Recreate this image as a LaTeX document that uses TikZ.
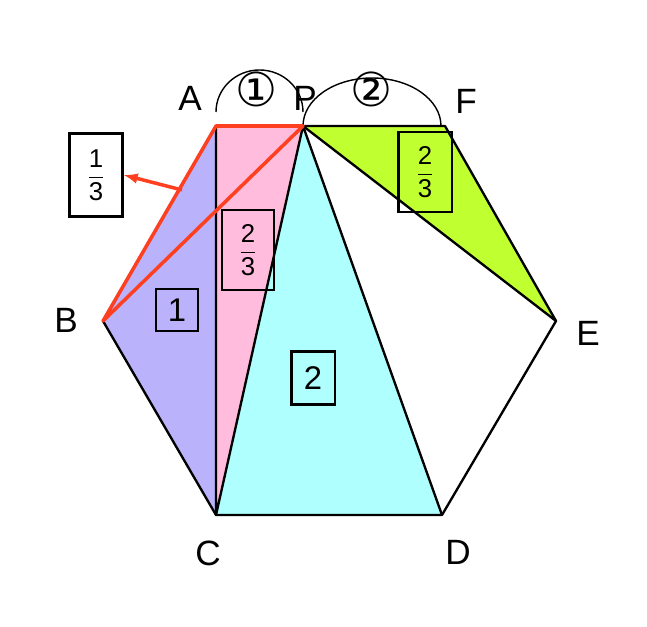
\documentclass[tikz,border=0pt]{standalone}
\usepackage{fontspec}
\setmainfont{Liberation Sans}
\newfontfamily\symfont{DejaVu Sans}
\definecolor{purp}{RGB}{186,178,250}
\definecolor{pinkr}{RGB}{255,188,220}
\definecolor{cyanr}{RGB}{176,255,255}
\definecolor{greenr}{RGB}{192,255,48}
\definecolor{redr}{RGB}{255,64,32}
\newcommand{\fr}[2]{$\displaystyle\frac{\mbox{#1}}{\mbox{#2}}$}
\begin{document}
\begin{tikzpicture}[x=0.03cm, y=-0.03cm,
    lbl/.style = {font=\fontsize{30}{34}\selectfont, inner sep=0pt},
    box/.style = {draw, line width=2pt, inner sep=3pt, font=\fontsize{28}{30}\selectfont},
    fbox/.style = {draw, line width=2pt, inner sep=3pt, font=\fontsize{22}{26}\selectfont},
    edge/.style = {draw, line width=2pt, line join=round},
  ]
  \useasboundingbox (0,0) rectangle (647,627);
  \coordinate (A) at (216,126);
  \coordinate (P) at (303,126);
  \coordinate (F) at (445,126);
  \coordinate (B) at (103,321);
  \coordinate (E) at (556,321);
  \coordinate (C) at (216,515);
  \coordinate (D) at (442,515);

  % coloured triangles
  \fill[purp] (A) -- (B) -- (C) -- cycle;
  \fill[pinkr] (A) -- (P) -- (C) -- cycle;
  \fill[cyanr] (P) -- (C) -- (D) -- cycle;
  \fill[greenr] (P) -- (F) -- (E) -- cycle;

  \path[edge] (A) -- (F) -- (E) -- (D) -- (C) -- (B) -- cycle;
  \path[edge] (A) -- (C) -- (P) -- (D);
  \path[edge] (P) -- (E);
  \path[draw, line width=1.2pt] (216,112) arc[start angle=180, end angle=360, x radius=43.5, y radius=42];
  \path[draw, line width=1.2pt] (303,126) arc[start angle=180, end angle=360, x radius=69, y radius=48];

  \path[draw, redr, line width=3pt, line join=round] (B) -- (A) -- (P) -- cycle;

  \node (LA) [lbl] at (190,98) {A};
  \node (LP) [lbl] at (305,98) {P};
  \node (LF) [lbl] at (466,101) {F};
  \node (LB) [lbl] at (66,320) {B};
  \node (LE) [lbl] at (588,333) {E};
  \node (LC) [lbl] at (208,553) {C};
  \node (LD) [lbl] at (458,552) {D};
  \node (N1) [lbl, font=\fontsize{40}{44}\selectfont] at (257,89) {\symfont ①};
  \node (N2) [lbl, font=\fontsize{40}{44}\selectfont] at (372,89) {\symfont ②};

  \node (T13) [fbox, fill=white, minimum width=1.6cm, minimum height=2.5cm] at (96,175) {\fr{1}{3}};
  \node (T23a) [fbox, minimum width=1.55cm, minimum height=2.4cm] at (248,250) {\fr{2}{3}};
  \node (T23b) [fbox, minimum width=1.6cm, minimum height=2.4cm] at (425,172) {\fr{2}{3}};
  \node (T1) [box, minimum width=1.25cm, minimum height=1.25cm] at (177,310) {1};
  \node (T2) [box, minimum width=1.3cm, minimum height=1.6cm] at (313,378) {2};

  \coordinate (R) at (182,190);
  \path[draw, redr, line width=3pt, -latex] (R) -- (T13.east);
\end{tikzpicture}
\end{document}
